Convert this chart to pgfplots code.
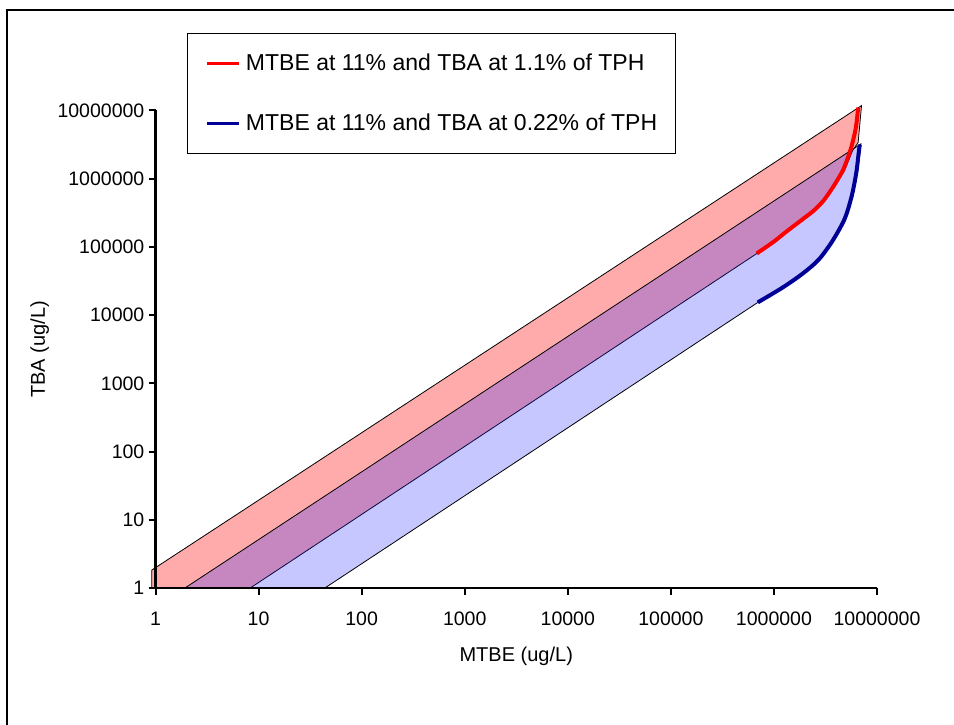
\documentclass[border=0pt]{standalone}
\usepackage{pgfplots}
\pgfplotsset{compat=1.18}
\usepackage{fontspec}
\setmainfont{Liberation Sans}
\definecolor{navyc}{RGB}{0,0,150}
\definecolor{bandblue}{RGB}{30,30,255}
\begin{document}
\begin{tikzpicture}[x=1pt,y=1pt]
\useasboundingbox (0,0) rectangle (954,724);
\draw[line width=2pt] (7,-5) -- (7,714) -- (960,714);
\begin{axis}[
  at={(155.5pt,136pt)}, anchor=south west,
  scale only axis, width=721.5pt, height=477.5pt,
  xmode=log, ymode=log,
  xmin=1, xmax=1e7, ymin=1, ymax=1e7,
  axis x line*=bottom, axis y line*=left,
  axis on top,
  axis line style={-, black, line width=2.4pt},
  xtick={1,10,100,1000,10000,100000,1000000,10000000},
  xticklabels={1,10,100,1000,10000,100000,1000000,10000000},
  ytick={1,10,100,1000,10000,100000,1000000,10000000},
  yticklabels={1,10,100,1000,10000,100000,1000000,10000000},
  xminorticks=false, yminorticks=false,
  tick align=outside, major tick length=7pt,
  major tick style={black, line width=2pt},
  tick label style={font=\fontsize{19.5}{23}\selectfont},
  xticklabel style={inner sep=0pt, anchor=north, text height=14pt, yshift=-16pt},
  yticklabel style={inner sep=0pt, anchor=east, xshift=-4pt},
  xlabel={MTBE (ug/L)}, ylabel={TBA (ug/L)},
  label style={font=\fontsize{20}{24}\selectfont},
  xlabel style={at={(axis description cs:0.5,-0.1529)}, anchor=base},
  ylabel style={at={(axis description cs:-0.1532,0.5)}, anchor=base},
  clip=false,
  legend style={at={(rel axis cs:0.04366,1.1623)}, anchor=north west, draw=black, line width=1pt, fill=white,
    inner xsep=18pt, inner ysep=20pt, row sep=40pt, column sep=5pt,
    font=\fontsize{23}{27}\selectfont, nodes={inner sep=0pt, text height=17pt, text depth=3pt}},
  legend cell align=left,
  legend image code/.code={\draw[#1, line width=3.5pt] (0pt,0pt) -- (32pt,0pt);},
]
% red band
\addplot[draw=black, line width=0.8pt, fill=red, fill opacity=0.33, forget plot] coordinates {
(0.92,1) (0.92,1.83) (7.08e6,1.18e7) (6.56e6,3.4e6) (5.8e6,2.59e6) (4.85e6,1.32e6) (3.65e6,6.72e5) (2.5e6,3.42e5) (1.36e6,1.69e5) (6.85e5,8.03e4) (8.3,1)
} -- cycle;
% blue band
\addplot[draw=black, line width=0.8pt, fill=bandblue, fill opacity=0.25, forget plot] coordinates {
(1.93,1) (6.97e6,3.24e6) (6.85e6,2.42e6) (6.45e6,1.23e6) (5.85e6,5.68e5) (4.98e6,2.61e5) (3.8e6,1.25e5) (2.78e6,6.56e4) (1.94e6,4.09e4) (1.24e6,2.55e4) (7.0e5,1.54e4) (44,1)
} -- cycle;
% red curve
\addplot[red, line width=4pt, smooth] coordinates {
(6.82e5,8.03e4) (1.0e6,1.2e5) (1.33e6,1.69e5) (1.9e6,2.55e5) (2.44e6,3.42e5) (3.0e6,4.7e5) (3.56e6,6.72e5) (4.1e6,9.4e5) (4.66e6,1.32e6) (5.1e6,1.85e6) (5.51e6,2.59e6) (5.85e6,3.6e6) (6.16e6,5.08e6) (6.38e6,7.2e6) (6.52e6,9.96e6) (6.6e6,1.1e7)
};
\addlegendentry{MTBE at 11\% and TBA at 1.1\% of TPH}
% blue curve
\addplot[navyc, line width=4pt, smooth] coordinates {
(6.98e5,1.54e4) (1.22e6,2.55e4) (1.91e6,4.09e4) (2.73e6,6.56e4) (3.73e6,1.25e5) (4.87e6,2.61e5) (5.70e6,5.68e5) (6.30e6,1.23e6) (6.65e6,2.42e6) (6.81e6,3.17e6)
};
\addlegendentry{MTBE at 11\% and TBA at 0.22\% of TPH}
\end{axis}
\end{tikzpicture}
\end{document}
